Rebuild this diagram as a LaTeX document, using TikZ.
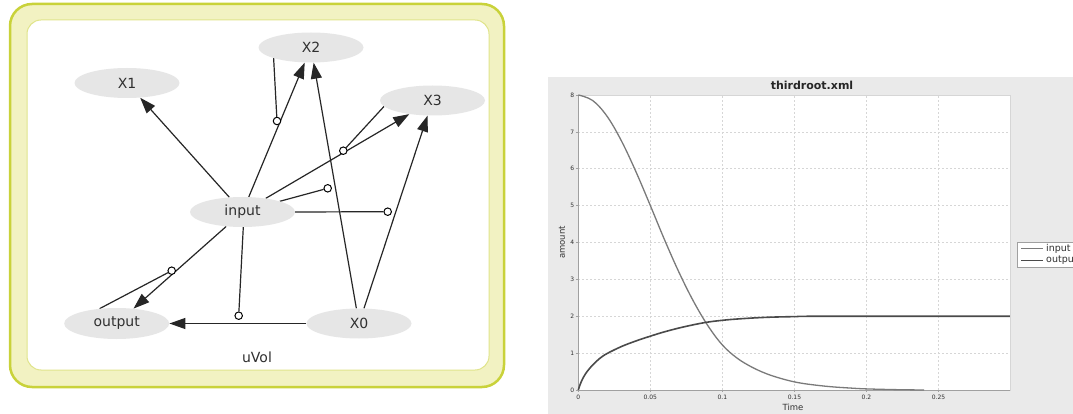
\documentclass[tikz,border=0pt]{standalone}
\usepackage{fontspec}
\setmainfont{DejaVu Sans}
\usetikzlibrary{arrows.meta,shapes.geometric}
\pgfdeclarelayer{bg}
\pgfdeclarelayer{edges}
\pgfsetlayers{bg,edges,main}
\definecolor{nodegray}{HTML}{E6E6E6}
\definecolor{txtgray}{HTML}{303030}
\definecolor{frameout}{HTML}{C9D23A}
\definecolor{framefill}{HTML}{F2F2C2}
\definecolor{framein}{HTML}{E0E48A}
\definecolor{panelgray}{HTML}{EAEAEA}
\definecolor{gridgray}{HTML}{D6D6D6}
\definecolor{axisgray}{HTML}{A0A0A0}
\definecolor{incurve}{HTML}{7A7A7A}
\definecolor{outcurve}{HTML}{4A4A4A}
\begin{document}
\begin{tikzpicture}[x=1pt,y=-1pt,
  species/.style={ellipse, fill=nodegray, minimum width=105pt, minimum height=30pt, inner sep=0pt,
    font=\fontsize{14}{16}\selectfont, text=txtgray},
  rxn/.style={draw=black!85, line width=1.2pt, -{Triangle[length=16pt,width=11pt]}},
  modline/.style={draw=black!85, line width=1.2pt},
  modc/.style={circle, draw=black, fill=white, line width=1pt, minimum size=7.5pt, inner sep=0pt},
  ticklab/.style={font=\fontsize{6}{7}\selectfont, text=txtgray, inner sep=0pt},
  axlab/.style={font=\fontsize{8.5}{10}\selectfont, text=txtgray, inner sep=0pt},
  gridln/.style={draw=gridgray, line width=0.5pt, dash pattern=on 2pt off 2pt},
]
\useasboundingbox (0,0) rectangle (1073,414);

% ---------- left panel: frame ----------
\begin{pgfonlayer}{bg}
  \draw[draw=frameout, fill=framefill, line width=2.5pt, rounded corners=22pt] (10,4) rectangle (504,387);
  \draw[draw=framein, fill=white, line width=1pt, rounded corners=14pt] (27,20) rectangle (489,370);
\end{pgfonlayer}

% ---------- species ----------
\node[species] (X2) at (311,47.5) {X2};
\node[species] (X1) at (127,83) {X1};
\node[species] (X3) at (432.5,100.5) {X3};
\node[species] (input) at (242.5,212) {input};
\node[species, minimum height=31pt] (output) at (116.7,323.5) {output};
\node[species] (X0) at (359,323.5) {X0};
\node[font=\fontsize{14}{16}\selectfont, text=txtgray] (uvol) at (257,357) {uVol};

% ---------- modifier circles ----------
\node[modc] (mX2) at (277,121) {};
\node[modc] (mX3) at (343.3,150.7) {};
\node[modc] (mA) at (327.7,188.3) {};
\node[modc] (mB) at (387.7,211.7) {};
\node[modc] (mC) at (238.7,315.7) {};
\node[modc] (mOut) at (171.7,270.7) {};

% ---------- edges ----------
\begin{pgfonlayer}{edges}
  \draw[rxn] (input) -- (X1);
  \draw[rxn] (input) -- (X2);
  \draw[rxn] (X0) -- (X2);
  \draw[rxn] (input) -- (X3);
  \draw[rxn] (X0) -- (X3);
  \draw[rxn] (X0) -- (output);
  \draw[rxn] (input) -- (output);
  \draw[modline] (X2.196.4) -- (mX2);
  \draw[modline] (X3.187.2) -- (mX3);
  \draw[modline] (input.16.6) -- (mA);
  \draw[modline] (input.east) -- (mB);
  \draw[modline] (input.273) -- (mC);
  \draw[modline] (output.139.8) -- (mOut);
\end{pgfonlayer}

% ---------- right panel: chart ----------
\fill[panelgray] (548,77) rectangle (1073,414);
\draw[fill=white, draw=gridgray, line width=0.8pt] (578.3,95) rectangle (1010,390);

\begin{scope}[shift={(578.3,390)}, x=1441pt, y=36.875pt]
  \foreach \t in {0.05,0.1,0.15,0.2,0.25} \draw[gridln] (\t,0) -- (\t,8);
  \foreach \v in {1,...,7} \draw[gridln] (0,\v) -- (0.2995,\v);
  \draw[axisgray, line width=1pt] (0,8) -- (0,0) -- (0.2995,0);
  \foreach \v in {0,...,8} \draw[axisgray, line width=0.6pt] (-0.0016,\v) -- (0,\v);
  \foreach \t in {0,0.05,0.1,0.15,0.2,0.25} \draw[axisgray, line width=0.6pt] (\t,0) -- (\t,-0.06);
  % input curve
  \draw[incurve, line width=1.3pt, line join=round] plot[smooth, tension=0.6] coordinates {
    (0,8.0) (0.01,7.85) (0.02,7.42) (0.03,6.75) (0.04,5.92) (0.05,5.0) (0.06,4.06)
    (0.07,3.18) (0.08,2.40) (0.09,1.74) (0.1,1.22) (0.11,0.87) (0.12,0.63) (0.13,0.45)
    (0.14,0.32) (0.15,0.22) (0.16,0.155) (0.175,0.09) (0.19,0.05) (0.2,0.03)
    (0.22,0.01) (0.24,0.0)};
  % output curve
  \draw[outcurve, line width=1.6pt, line join=round] plot[smooth, tension=0.6] coordinates {
    (0,0) (0.002,0.22) (0.005,0.44) (0.01,0.68) (0.015,0.86) (0.02,0.99)
    (0.03,1.18) (0.04,1.33) (0.05,1.46) (0.06,1.58) (0.073,1.71) (0.088,1.83) (0.1,1.89)
    (0.112,1.93) (0.13,1.97) (0.15,1.99) (0.17,2.0) (0.2995,2.0)};
\end{scope}

% tick labels
\foreach \v in {0,...,8}
  \node[ticklab, anchor=east] (yl\v) at (574.5,{390-\v*36.875}) {\v};
\foreach \t/\lab [count=\i] in {0/0,0.05/0.05,0.1/0.1,0.15/0.15,0.2/0.2,0.25/0.25}
  \node[ticklab] (xl\i) at ({578.3+\t*1441},397) {\lab};

\node[font=\bfseries\fontsize{11}{13}\selectfont, text=black!85] (title) at (812,85) {thirdroot.xml};
\node[axlab] (xlabel) at (793,407.5) {Time};
\node[axlab, rotate=90] (ylabel) at (562,242.5) {amount};

% legend
\begin{scope}
  \clip (548,77) rectangle (1073,414);
  \draw[fill=white, draw=axisgray, line width=0.8pt] (1017,242) rectangle (1085,267);
  \coordinate (li1) at (1021,248.5);
  \coordinate (li2) at (1043,248.5);
  \coordinate (lo1) at (1021,260.5);
  \coordinate (lo2) at (1043,260.5);
  \draw[incurve, line width=1.3pt] (li1) -- (li2);
  \draw[outcurve, line width=1.6pt] (lo1) -- (lo2);
  \node[font=\fontsize{9.5}{11}\selectfont, text=txtgray, anchor=west, inner sep=0pt] (legin) at (1046,248.5) {input};
  \node[font=\fontsize{9.5}{11}\selectfont, text=txtgray, anchor=west, inner sep=0pt] (legout) at (1046,260.5) {output};
\end{scope}
\end{tikzpicture}
\end{document}
